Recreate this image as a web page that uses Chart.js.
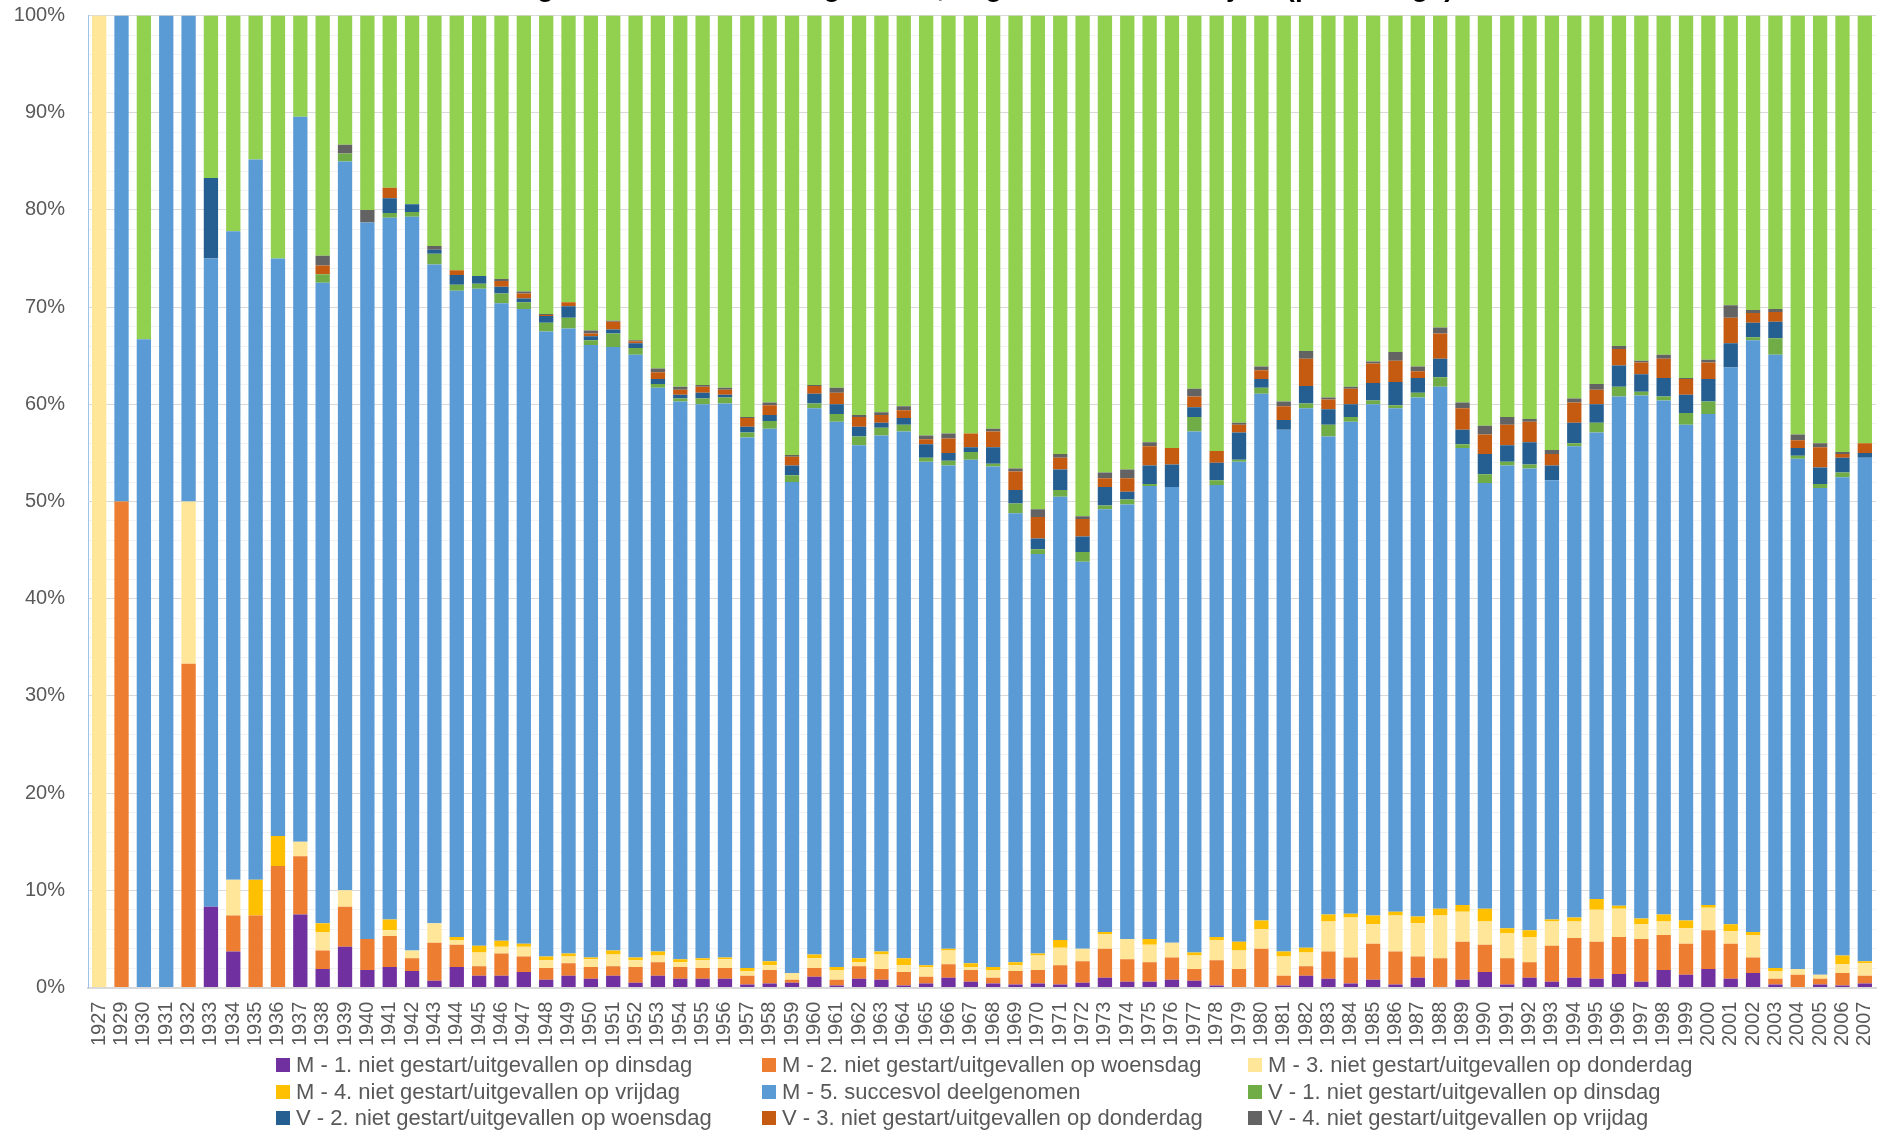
<!DOCTYPE html>
<html>
<head>
<meta charset="utf-8">
<script src="https://cdn.jsdelivr.net/npm/chart.js@4.4.1/dist/chart.umd.min.js"></script>
<style>
  html, body { margin: 0; padding: 0; background: #fff; overflow: hidden; width: 1879px; height: 1133px; }
  #wrap { position: absolute; left: 0; top: -30px; width: 1879px; height: 1086px; }
  #legend {
    position: absolute; left: 276px; top: 1052px;
    display: grid; grid-template-columns: 486px 486px 486px; grid-auto-rows: 26.5px;
    font-family: 'Liberation Sans', Arial, sans-serif;
    font-size: 22px; color: #595959;
  }
  #legend .item { display: flex; align-items: center; white-space: nowrap; }
  #legend .box { width: 14px; height: 14px; margin-right: 6px; flex: none; }
</style>
</head>
<body>
<div id="wrap"><canvas id="chart" width="1879" height="1086"></canvas></div>
<div id="legend"></div>
<script>
const FONT = "'Liberation Sans', Arial, sans-serif";

const years = [
  '1927', '1929', '1930', '1931', '1932', '1933', '1934', '1935', '1936', '1937',
  '1938', '1939', '1940', '1941', '1942', '1943', '1944', '1945', '1946', '1947',
  '1948', '1949', '1950', '1951', '1952', '1953', '1954', '1955', '1956', '1957',
  '1958', '1959', '1960', '1961', '1962', '1963', '1964', '1965', '1966', '1967',
  '1968', '1969', '1970', '1971', '1972', '1973', '1974', '1975', '1976', '1977',
  '1978', '1979', '1980', '1981', '1982', '1983', '1984', '1985', '1986', '1987',
  '1988', '1989', '1990', '1991', '1992', '1993', '1994', '1995', '1996', '1997',
  '1998', '1999', '2000', '2001', '2002', '2003', '2004', '2005', '2006', '2007'
];

// percentages per jaar, van onder naar boven gestapeld
const m1 = [
  0, 0, 0, 0, 0, 8.3, 3.7, 0, 0, 7.5,
  1.9, 4.2, 1.8, 2.1, 1.7, 0.7, 2.1, 1.2, 1.2, 1.6,
  0.8, 1.2, 0.9, 1.2, 0.5, 1.2, 0.9, 0.9, 0.9, 0.3,
  0.4, 0.5, 1.1, 0.2, 0.9, 0.8, 0.2, 0.4, 1.0, 0.6,
  0.4, 0.3, 0.4, 0.3, 0.5, 1.0, 0.6, 0.6, 0.8, 0.7,
  0.2, 0, 0, 0.2, 1.2, 0.9, 0.4, 0.8, 0.3, 1.0,
  0, 0.8, 1.6, 0.3, 1.0, 0.6, 1.0, 0.9, 1.4, 0.6,
  1.8, 1.3, 1.9, 0.9, 1.5, 0.3, 0, 0.3, 0.2, 0.4
];
const m2 = [
  0, 50, 0, 0, 33.3, 0, 3.7, 7.4, 12.5, 6.0,
  1.9, 4.1, 3.2, 3.2, 1.3, 3.9, 2.3, 1.0, 2.3, 1.6,
  1.2, 1.3, 1.2, 1.0, 1.6, 1.4, 1.2, 1.1, 1.1, 0.9,
  1.4, 0.3, 0.9, 0.6, 1.3, 1.1, 1.4, 0.7, 1.4, 1.2,
  0.6, 1.4, 1.4, 2.0, 2.2, 3.0, 2.3, 2.0, 2.3, 1.2,
  2.6, 1.9, 4.0, 1.0, 1.0, 2.8, 2.7, 3.7, 3.4, 2.2,
  3.0, 3.9, 2.8, 2.7, 1.6, 3.7, 4.1, 3.8, 3.8, 4.4,
  3.6, 3.2, 4.0, 3.6, 1.6, 0.6, 1.3, 0.6, 1.3, 0.8
];
const m3 = [
  100, 0, 0, 0, 16.7, 0, 3.7, 0, 0, 1.5,
  1.9, 1.7, 0, 0.6, 0.8, 2.0, 0.5, 1.4, 0.7, 1.0,
  0.8, 0.7, 0.8, 1.2, 0.7, 0.7, 0.5, 0.8, 0.9, 0.5,
  0.5, 0.7, 1.0, 1.0, 0.4, 1.5, 0.7, 1.0, 1.4, 0.3,
  0.8, 0.6, 1.5, 1.8, 1.3, 1.5, 2.1, 1.8, 1.5, 1.4,
  2.1, 1.9, 2.0, 2.0, 1.4, 3.1, 4.1, 2.0, 3.7, 3.4,
  4.4, 3.1, 2.4, 2.6, 2.6, 2.5, 1.7, 3.3, 2.9, 1.5,
  1.4, 1.6, 2.3, 1.3, 2.3, 0.8, 0.6, 0.4, 0.9, 1.3
];
const m4 = [
  0, 0, 0, 0, 0, 0, 0, 3.7, 3.1, 0,
  0.9, 0, 0, 1.1, 0, 0, 0.3, 0.7, 0.6, 0.3,
  0.4, 0.3, 0.2, 0.4, 0.3, 0.4, 0.3, 0.2, 0.2, 0.3,
  0.4, 0, 0.4, 0.3, 0.4, 0.3, 0.7, 0.2, 0.2, 0.4,
  0.3, 0.3, 0.2, 0.8, 0, 0.2, 0, 0.6, 0, 0.3,
  0.3, 0.9, 0.9, 0.5, 0.5, 0.7, 0.4, 0.9, 0.4, 0.7,
  0.7, 0.7, 1.3, 0.5, 0.7, 0.2, 0.4, 1.1, 0.3, 0.6,
  0.7, 0.8, 0.3, 0.7, 0.3, 0.3, 0, 0, 0.9, 0.2
];
const m5 = [
  0, 50, 66.7, 100, 50, 66.7, 66.7, 74.1, 59.4, 74.6,
  65.9, 75.0, 73.7, 72.2, 75.5, 67.8, 66.5, 67.6, 65.6, 65.3,
  64.3, 64.3, 63.0, 62.1, 62.0, 58.0, 57.4, 57.0, 57.0, 54.6,
  54.8, 50.5, 56.2, 56.1, 52.8, 53.1, 54.2, 51.8, 49.7, 51.8,
  51.5, 46.2, 41.1, 45.6, 39.8, 43.5, 44.7, 46.6, 46.9, 53.6,
  46.5, 49.4, 54.2, 53.7, 55.5, 49.2, 50.6, 52.6, 51.8, 53.4,
  53.7, 47.0, 43.8, 47.6, 47.5, 45.2, 48.5, 48.0, 52.4, 53.8,
  52.9, 51.0, 50.5, 57.3, 60.9, 63.1, 52.5, 50.1, 49.2, 51.8
];
const v1 = [
  0, 0, 0, 0, 0, 0, 0, 0, 0, 0,
  0.9, 0.8, 0, 0.5, 0.5, 1.1, 0.6, 0.5, 1.0, 0.7,
  0.9, 1.1, 0.5, 1.4, 0.7, 0.4, 0.3, 0.6, 0.6, 0.5,
  0.8, 0.7, 0.5, 0.8, 0.9, 0.8, 0.7, 0.4, 0.5, 0.8,
  0.3, 1.0, 0.5, 0.7, 1.0, 0.4, 0.5, 0.2, 0, 1.5,
  0.5, 0.2, 0.6, 0, 0.5, 1.2, 0.5, 0.4, 0.3, 0.5,
  1.0, 0.4, 0.9, 0.4, 0.4, 0, 0.3, 1.0, 1.0, 0.4,
  0.4, 1.2, 1.3, 0, 0.3, 1.7, 0.3, 0.4, 0.5, 0
];
const v2 = [
  0, 0, 0, 0, 0, 8.3, 0, 0, 0, 0,
  0, 0, 0, 1.5, 0.8, 0.4, 1.0, 0.8, 0.7, 0.4,
  0.7, 1.2, 0.4, 0.4, 0.5, 0.5, 0.4, 0.6, 0.3, 0.6,
  0.6, 1.0, 1.0, 1.0, 1.0, 0.5, 0.7, 1.4, 0.8, 0.5,
  1.7, 1.4, 1.1, 2.1, 1.6, 1.9, 0.8, 1.9, 2.3, 1.0,
  1.8, 2.8, 0.9, 1.0, 1.8, 1.6, 1.3, 1.8, 2.4, 1.5,
  1.9, 1.5, 2.1, 1.7, 2.3, 1.5, 2.1, 1.9, 2.2, 1.8,
  1.9, 1.9, 2.3, 2.5, 1.5, 1.7, 0.8, 1.7, 1.5, 0.5
];
const v3 = [
  0, 0, 0, 0, 0, 0, 0, 0, 0, 0,
  0.9, 0, 0, 1.1, 0, 0, 0.5, 0, 0.6, 0.5,
  0.1, 0.4, 0.3, 0.8, 0.2, 0.7, 0.5, 0.6, 0.5, 0.9,
  1.0, 0.9, 0.8, 1.2, 1.0, 0.8, 0.8, 0.5, 1.5, 1.4,
  1.6, 1.9, 2.2, 1.2, 1.8, 0.9, 1.4, 2.0, 1.7, 1.1,
  1.2, 0.8, 0.9, 1.4, 2.8, 1.0, 1.6, 2.0, 2.2, 0.7,
  2.6, 2.2, 2.0, 2.1, 2.1, 1.2, 2.1, 1.5, 1.7, 1.2,
  2.0, 1.6, 1.7, 2.6, 1.0, 1.0, 0.8, 2.1, 0.4, 1.0
];
const v4 = [
  0, 0, 0, 0, 0, 0, 0, 0, 0, 0,
  1.0, 0.9, 1.3, 0, 0, 0.4, 0, 0, 0.2, 0.2,
  0.1, 0, 0.3, 0.1, 0.1, 0.4, 0.3, 0.2, 0.2, 0.1,
  0.3, 0.2, 0.1, 0.5, 0.2, 0.3, 0.4, 0.4, 0.5, 0,
  0.3, 0.3, 0.8, 0.4, 0.3, 0.6, 0.9, 0.4, 0, 0.8,
  0, 0.2, 0.4, 0.5, 0.8, 0.2, 0.2, 0.2, 0.9, 0.5,
  0.6, 0.6, 0.9, 0.8, 0.3, 0.4, 0.4, 0.6, 0.3, 0.2,
  0.4, 0.1, 0.3, 1.3, 0.3, 0.3, 0.6, 0.4, 0.2, 0
];
const v5 = [
  0, 0, 33.3, 0, 0, 16.7, 22.2, 14.8, 25, 10.4,
  24.7, 13.3, 20.0, 17.7, 19.4, 23.7, 26.2, 26.8, 27.1, 28.4,
  30.7, 29.5, 32.4, 31.4, 33.4, 36.3, 38.2, 38.0, 38.3, 41.3,
  39.8, 45.2, 38.0, 38.3, 41.1, 40.8, 40.2, 43.2, 43.0, 43.0,
  42.5, 46.6, 50.8, 45.1, 51.5, 47.0, 46.7, 43.9, 44.5, 38.4,
  44.8, 41.9, 36.1, 39.7, 34.5, 39.3, 38.2, 35.6, 34.6, 36.1,
  32.1, 39.8, 42.2, 41.3, 41.5, 44.7, 39.4, 37.9, 34.0, 35.5,
  34.9, 37.3, 35.4, 29.8, 30.3, 30.2, 43.1, 44.0, 44.9, 44.0
];

const seriesLabels = [
  'M - 1. niet gestart/uitgevallen op dinsdag',
  'M - 2. niet gestart/uitgevallen op woensdag',
  'M - 3. niet gestart/uitgevallen op donderdag',
  'M - 4. niet gestart/uitgevallen op vrijdag',
  'M - 5. succesvol deelgenomen',
  'V - 1. niet gestart/uitgevallen op dinsdag',
  'V - 2. niet gestart/uitgevallen op woensdag',
  'V - 3. niet gestart/uitgevallen op donderdag',
  'V - 4. niet gestart/uitgevallen op vrijdag',
  'V - 5. succesvol deelgenomen'
];
const seriesColors = ['#7030a0', '#ed7d31', '#ffe699', '#ffc000', '#5b9bd5',
                      '#70ad47', '#255e91', '#c55a11', '#636363', '#92d050'];
const seriesData = [m1, m2, m3, m4, m5, v1, v2, v3, v4, v5];

const datasets = seriesData.map((d, i) => ({
  label: seriesLabels[i],
  data: d,
  backgroundColor: seriesColors[i],
  borderWidth: 0,
  barPercentage: 0.64,
  categoryPercentage: 1
}));

const chart = new Chart(document.getElementById('chart'), {
  type: 'bar',
  data: { labels: years, datasets },
  options: {
    responsive: false,
    animation: false,
    layout: { padding: { left: 14, right: 3, top: 0, bottom: 4 } },
    plugins: {
      legend: { display: false },
      tooltip: { enabled: false },
      title: {
        display: true,
        text: 'Vierdaagse deelnemers naar geslacht, dag van uitvallen en jaar (percentage)',
        color: '#000',
        font: { family: FONT, size: 28, weight: 'bold' },
        padding: { top: 1, bottom: 11 }
      }
    },
    scales: {
      x: {
        stacked: true,
        grid: { display: false },
        border: { color: '#d9d9d9', width: 2 },
        ticks: {
          autoSkip: false, minRotation: 90, maxRotation: 90, padding: 6,
          color: '#595959', font: { family: FONT, size: 20 }
        },
        afterFit: s => { s.paddingLeft = 0; s.paddingRight = 0; }
      },
      y: {
        stacked: true,
        min: 0, max: 100,
        border: { color: '#9dc3e6', width: 1 },
        grid: {
          drawTicks: false,
          color: c => (c.tick && c.tick.value % 10 === 0) ? '#d9d9d9' : '#f2f2f2'
        },
        ticks: {
          stepSize: 2, autoSkip: false, padding: 23,
          color: '#595959', font: { family: FONT, size: 20 },
          callback: v => (v % 10 === 0 ? v + '%' : '')
        },
        // vaste breedte zodat de as op dezelfde plek staat als in het origineel
        afterFit: s => { s.width = 74; }
      }
    }
  }
});

// legenda in drie kolommen zoals in het origineel
const legendEl = document.getElementById('legend');
chart.data.datasets.forEach(ds => {
  const item = document.createElement('div');
  item.className = 'item';
  const box = document.createElement('span');
  box.className = 'box';
  box.style.background = ds.backgroundColor;
  const txt = document.createElement('span');
  txt.textContent = ds.label;
  item.appendChild(box);
  item.appendChild(txt);
  legendEl.appendChild(item);
});
</script>
</body>
</html>
